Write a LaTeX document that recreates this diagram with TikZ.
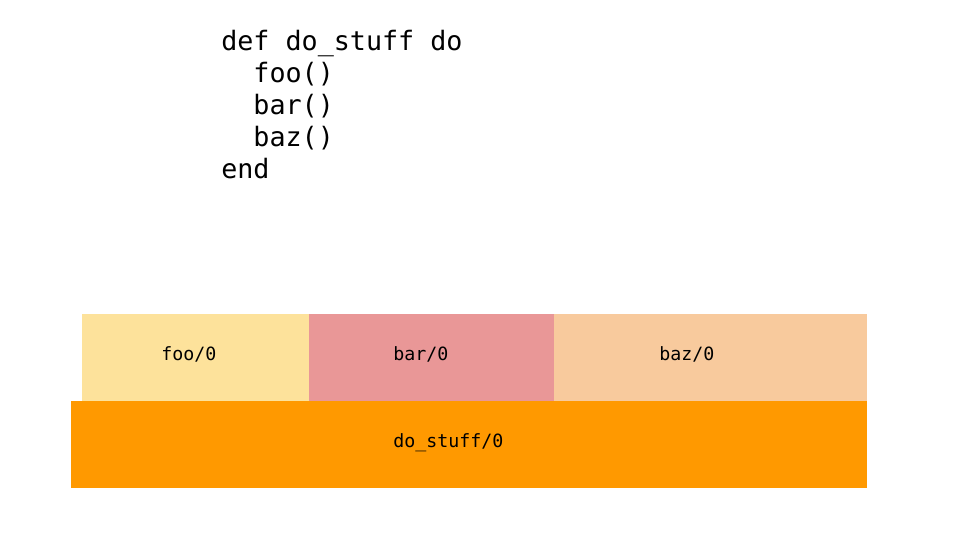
\documentclass[tikz,border=0pt]{standalone}
\usepackage{fontspec}
\usepackage{tikz}
\usetikzlibrary{positioning}
\newfontfamily\codefont{DejaVu Sans Mono}
\definecolor{fooyellow}{HTML}{FDE29B}
\definecolor{barred}{HTML}{E99797}
\definecolor{bazpeach}{HTML}{F8CA9D}
\definecolor{stufforange}{HTML}{FF9900}

\begin{document}
\begin{tikzpicture}[
  x=0.025cm, y=-0.025cm,
  code/.style={font={\codefont\fontsize{19}{22.8}\selectfont},align=left,inner sep=0pt},
  frame/.style={inner sep=0pt,outer sep=0pt,minimum height=2.175cm},
  fname/.style={font={\codefont\fontsize{13}{15}\selectfont},inner sep=0pt,anchor=base west}
]
\useasboundingbox (0,0) rectangle (960,540);

% source listing
\node[code,anchor=north west] (listing) at (221,30)
  {def do\_stuff do\\\phantom{xx}foo()\\\phantom{xx}bar()\\\phantom{xx}baz()\\end};

% flame graph: callees stacked on top of the caller
\node[frame,fill=fooyellow,anchor=north west,minimum width=5.675cm] (foo) at (82,314) {};
\node[frame,fill=barred,right=0pt of foo,minimum width=6.125cm] (bar) {};
\node[frame,fill=bazpeach,right=0pt of bar,minimum width=7.825cm] (baz) {};
\node[frame,fill=stufforange,anchor=north east,minimum width=19.9cm] (dostuff) at (baz.south east) {};

\node[fname] (foolabel) at (161,360) {foo/0};
\node[fname] (barlabel) at (393,360) {bar/0};
\node[fname] (bazlabel) at (659,360) {baz/0};
\node[fname] (dostufflabel) at (393,447) {do\_stuff/0};
\end{tikzpicture}
\end{document}
